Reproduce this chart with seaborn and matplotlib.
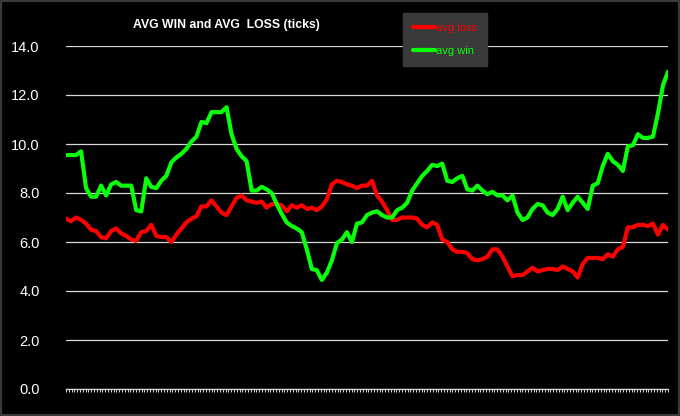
import numpy as np
import pandas as pd
import matplotlib
matplotlib.use("Agg")
import matplotlib.pyplot as plt
import seaborn as sns

# values, one per ~5 px step along x
avg_win = [9.55, 9.55, 9.55, 9.7, 8.2, 7.85, 7.85, 8.3, 7.9, 8.35,
           8.45, 8.3, 8.3, 8.3, 7.3, 7.25, 8.6, 8.25, 8.2, 8.5,
           8.7, 9.25, 9.45, 9.6, 9.8, 10.1, 10.3, 10.9, 10.85, 11.3,
           11.3, 11.3, 11.5, 10.4, 9.8, 9.5, 9.3, 8.1, 8.1, 8.25,
           8.15, 8.0, 7.55, 7.15, 6.8, 6.65, 6.55, 6.4, 5.7, 4.9,
           4.85, 4.45, 4.75, 5.25, 5.95, 6.1, 6.4, 6.0, 6.75, 6.8,
           7.1, 7.2, 7.25, 7.1, 7.0, 7.0, 7.3, 7.4, 7.6, 8.1,
           8.4, 8.7, 8.9, 9.15, 9.1, 9.2, 8.5, 8.45, 8.6, 8.7,
           8.15, 8.1, 8.3, 8.1, 7.95, 8.05, 7.9, 7.9, 7.7, 7.9,
           7.2, 6.9, 7.0, 7.35, 7.55, 7.5, 7.2, 7.1, 7.35, 7.85,
           7.3, 7.6, 7.85, 7.6, 7.35, 8.3, 8.4, 9.1, 9.6, 9.3,
           9.15, 8.9, 9.9, 9.95, 10.4, 10.25, 10.25, 10.3, 11.25, 12.4,
           12.95]
avg_loss = [6.95, 6.85, 7.0, 6.9, 6.75, 6.5, 6.45, 6.2, 6.15, 6.45,
            6.55, 6.35, 6.25, 6.1, 6.05, 6.4, 6.45, 6.7, 6.25, 6.2,
            6.2, 6.0, 6.3, 6.55, 6.8, 6.95, 7.05, 7.45, 7.45, 7.7,
            7.45, 7.2, 7.1, 7.45, 7.8, 7.9, 7.7, 7.65, 7.6, 7.65,
            7.4, 7.55, 7.55, 7.5, 7.25, 7.5, 7.4, 7.5, 7.35, 7.4,
            7.3, 7.45, 7.75, 8.35, 8.5, 8.45, 8.35, 8.3, 8.2, 8.3,
            8.3, 8.5, 7.9, 7.65, 7.3, 6.9, 6.9, 7.0, 7.0, 7.0,
            6.95, 6.7, 6.6, 6.8, 6.7, 6.1, 6.0, 5.7, 5.6, 5.6,
            5.55, 5.3, 5.25, 5.3, 5.4, 5.7, 5.7, 5.4, 5.0, 4.6,
            4.65, 4.65, 4.8, 4.95, 4.8, 4.85, 4.9, 4.9, 4.85, 5.0,
            4.9, 4.8, 4.55, 5.1, 5.35, 5.35, 5.35, 5.3, 5.5, 5.4,
            5.7, 5.8, 6.6, 6.6, 6.7, 6.7, 6.65, 6.75, 6.3, 6.7,
            6.5]
y_ticks = [0, 2, 4, 6, 8, 10, 12, 14]
n_ticks_x = 216

day = np.arange(len(avg_win))
df = pd.DataFrame({
    "day": np.concatenate([day, day]),
    "value": avg_loss + avg_win,
    "series": ["avg loss"] * len(avg_loss) + ["avg win"] * len(avg_win),
})

sns.set_style("dark")
plt.rcParams["font.family"] = ["Liberation Sans", "DejaVu Sans"]

fig = plt.figure(figsize=(6.8, 4.16), dpi=100, facecolor="black")
ax = fig.add_axes([66 / 680, 1 - 389 / 416, 602 / 680, 343 / 416])
ax.set_facecolor("black")

sns.lineplot(data=df, x="day", y="value", hue="series",
             palette={"avg loss": "#ff0000", "avg win": "#0aff0a"},
             linewidth=3, ax=ax, legend=True)

ax.set_xlim(0, len(avg_win) - 1)
ax.set_ylim(0, 14)
ax.set_yticks(y_ticks)
ax.set_yticklabels([f"{v:.1f}" for v in y_ticks], color="white", fontsize=10.5)
ax.yaxis.grid(True, color="#d8d8d8", linewidth=0.9)
ax.xaxis.grid(False)
ax.set_xticks(np.linspace(0, len(avg_win) - 1, n_ticks_x))
ax.set_xticklabels([])
ax.tick_params(axis="x", bottom=True, direction="out", length=2.5, width=0.7,
               color="#d8d8d8")
ax.tick_params(axis="y", left=False, length=0, pad=19)
ax.set_xlabel("")
ax.set_ylabel("")
for side in ["top", "right", "left"]:
    ax.spines[side].set_visible(False)
ax.spines["bottom"].set_visible(True)
ax.spines["bottom"].set_color("#d8d8d8")
ax.spines["bottom"].set_linewidth(0.9)

fig.text(226 / 680, 1 - 25 / 416, "AVG WIN and AVG  LOSS (ticks)",
         color="white", fontsize=8.8, fontweight="bold", ha="center", va="center")

leg = ax.legend(loc="upper left", bbox_to_anchor=(403 / 680, 1 - 13 / 416),
                bbox_transform=fig.transFigure, borderaxespad=0,
                frameon=True, fancybox=False,
                facecolor="#3a3a3a", edgecolor="#3a3a3a", framealpha=1,
                fontsize=8, labelcolor="linecolor", handlelength=2.0,
                handletextpad=0.1, labelspacing=1.2, borderpad=0.9)
for line in leg.get_lines():
    line.set_linewidth(3)

fig.patches.append(plt.Rectangle((0, 0), 1, 1, transform=fig.transFigure,
                                 fill=False, edgecolor="#3a3a3a", linewidth=3))

fig.savefig("out.png", dpi=100, facecolor="black")
